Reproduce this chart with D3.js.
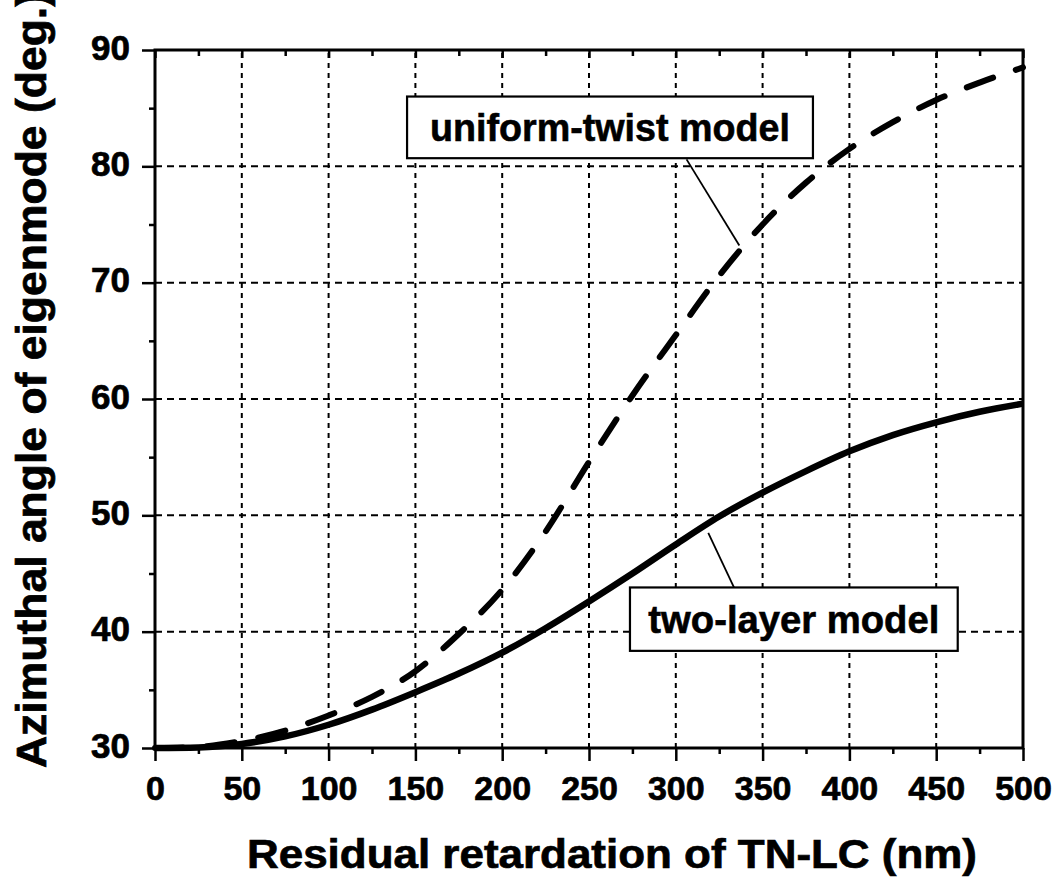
<!DOCTYPE html>
<html>
<head>
<meta charset="utf-8">
<script src="https://cdn.jsdelivr.net/npm/d3@7"></script>
<style>
  body { margin: 0; background: #fff; }
  svg { display: block; font-family: "Liberation Sans", Arial, sans-serif; font-weight: bold; }
</style>
</head>
<body>
<svg id="chart" width="1057" height="880"></svg>
<script>
// retardation (nm) sampled every 25 nm
const retardation = [0, 25, 50, 75, 100, 125, 150, 175, 200, 225, 250, 275, 300, 325, 350, 375, 400, 425, 450, 475, 500];
const uniformTwist = [30.0, 30.1, 30.6, 31.5, 32.8, 34.4, 36.6, 39.8, 43.6, 48.6, 54.6, 60.3, 65.5, 70.6, 75.0, 78.6, 81.5, 83.8, 85.7, 87.2, 88.5];
const twoLayer = [30.0, 30.05, 30.35, 31.0, 32.0, 33.3, 34.8, 36.4, 38.2, 40.3, 42.6, 45.0, 47.5, 49.9, 51.95, 53.8, 55.5, 56.9, 58.0, 58.9, 59.6];

const xTicks = [0, 50, 100, 150, 200, 250, 300, 350, 400, 450, 500];
const xMinor = [25, 75, 125, 175, 225, 275, 325, 375, 425, 475];
const yTicks = [30, 40, 50, 60, 70, 80, 90];
const yMinor = [35, 45, 55, 65, 75, 85];

// label boxes in data units: [x0, x1, yTop, yBottom], pointer [from, to]
const uniformBox = [145.2, 379, 86.0, 80.7];
const uniformPointer = [[306.2, 80.6], [336.6, 73.2]];
const twoLayerBox = [273.6, 462.4, 43.8, 38.35];
const twoLayerPointer = [[318.7, 48.5], [333.5, 43.8]];

const svg = d3.select('#chart');
const x = d3.scaleLinear([0, 500], [155, 1023]);
const y = d3.scaleLinear([30, 90], [748, 50]);

// grid
svg.append('g')
  .selectAll('line')
  .data(xTicks.slice(1, -1))
  .join('line')
  .attr('x1', d => x(d)).attr('x2', d => x(d))
  .attr('y1', y(30)).attr('y2', y(90))
  .attr('stroke', '#000')
  .attr('stroke-width', 2)
  .attr('stroke-dasharray', '5,5');

svg.append('g')
  .selectAll('line')
  .data(yTicks.slice(1, -1))
  .join('line')
  .attr('x1', x(0)).attr('x2', x(500))
  .attr('y1', d => y(d)).attr('y2', d => y(d))
  .attr('stroke', '#000')
  .attr('stroke-width', 2)
  .attr('stroke-dasharray', '7,5');

// axes
function styleAxis(g) {
  g.select('.domain').remove();
  g.selectAll('line').attr('stroke', '#000').attr('stroke-width', 2.5);
  g.selectAll('text')
    .attr('fill', '#000')
    .attr('stroke', '#000')
    .attr('stroke-width', 0.7)
    .attr('font-family', '"Liberation Sans", Arial, sans-serif')
    .attr('font-weight', 'bold');
}

svg.append('g')
  .attr('transform', `translate(0,${y(30)})`)
  .call(d3.axisBottom(x).tickValues(xTicks).tickSize(13).tickPadding(15))
  .call(styleAxis)
  .selectAll('text').attr('font-size', 34);

svg.append('g')
  .attr('transform', `translate(0,${y(30)})`)
  .call(d3.axisBottom(x).tickValues(xMinor).tickSize(6).tickFormat(''))
  .call(styleAxis);

svg.append('g')
  .attr('transform', `translate(${x(0)},0)`)
  .call(d3.axisLeft(y).tickValues(yTicks).tickSize(13).tickPadding(12))
  .call(styleAxis)
  .selectAll('text').attr('font-size', 35).attr('dy', '0.26em');

svg.append('g')
  .attr('transform', `translate(${x(0)},0)`)
  .call(d3.axisLeft(y).tickValues(yMinor).tickSize(6).tickFormat(''))
  .call(styleAxis);

svg.append('g')
  .attr('transform', `translate(0,${y(90)})`)
  .call(d3.axisBottom(x).tickValues(xTicks).tickSize(8).tickFormat(''))
  .call(styleAxis);

svg.append('g')
  .attr('transform', `translate(0,${y(90)})`)
  .call(d3.axisBottom(x).tickValues(xMinor).tickSize(6).tickFormat(''))
  .call(styleAxis);

// frame
svg.append('rect')
  .attr('x', x(0)).attr('y', y(90))
  .attr('width', x(500) - x(0)).attr('height', y(30) - y(90))
  .attr('fill', 'none')
  .attr('stroke', '#000')
  .attr('stroke-width', 3);

// curves
const line = d3.line()
  .x((d, i) => x(retardation[i]))
  .y(d => y(d))
  .curve(d3.curveMonotoneX);

svg.append('path')
  .attr('d', line(uniformTwist))
  .attr('fill', 'none')
  .attr('stroke', '#000')
  .attr('stroke-width', 6)
  .attr('stroke-linecap', 'round')
  .attr('stroke-dasharray', '28,24');

svg.append('path')
  .attr('d', line(twoLayer))
  .attr('fill', 'none')
  .attr('stroke', '#000')
  .attr('stroke-width', 6.5);

// annotations
function addLabel(box, pointer, text, textLen) {
  svg.append('line')
    .attr('x1', x(pointer[0][0])).attr('y1', y(pointer[0][1]))
    .attr('x2', x(pointer[1][0])).attr('y2', y(pointer[1][1]))
    .attr('stroke', '#000')
    .attr('stroke-width', 1.8);

  const bx = x(box[0]), bw = x(box[1]) - x(box[0]);
  const by = y(box[2]), bh = y(box[3]) - y(box[2]);
  svg.append('rect')
    .attr('x', bx).attr('y', by)
    .attr('width', bw).attr('height', bh)
    .attr('fill', '#fff')
    .attr('stroke', '#000')
    .attr('stroke-width', 2.2);

  svg.append('text')
    .attr('x', bx + bw / 2)
    .attr('y', by + bh / 2 + 14)
    .attr('text-anchor', 'middle')
    .attr('font-size', 39)
    .attr('stroke', '#000')
    .attr('stroke-width', 0.6)
    .attr('textLength', textLen)
    .attr('lengthAdjust', 'spacingAndGlyphs')
    .text(text);
}

addLabel(uniformBox, uniformPointer, 'uniform-twist model', 360);
addLabel(twoLayerBox, twoLayerPointer, 'two-layer model', 291);

// axis titles
svg.append('text')
  .attr('x', 247)
  .attr('y', 868)
  .attr('font-size', 41)
  .attr('stroke', '#000')
  .attr('stroke-width', 0.7)
  .attr('textLength', 730)
  .attr('lengthAdjust', 'spacingAndGlyphs')
  .text('Residual retardation of TN-LC (nm)');

svg.append('text')
  .attr('transform', 'translate(46,768) rotate(-90)')
  .attr('font-size', 42)
  .attr('stroke', '#000')
  .attr('stroke-width', 0.7)
  .attr('textLength', 776)
  .attr('lengthAdjust', 'spacingAndGlyphs')
  .text('Azimuthal angle of eigenmode (deg.)');
</script>
</body>
</html>
